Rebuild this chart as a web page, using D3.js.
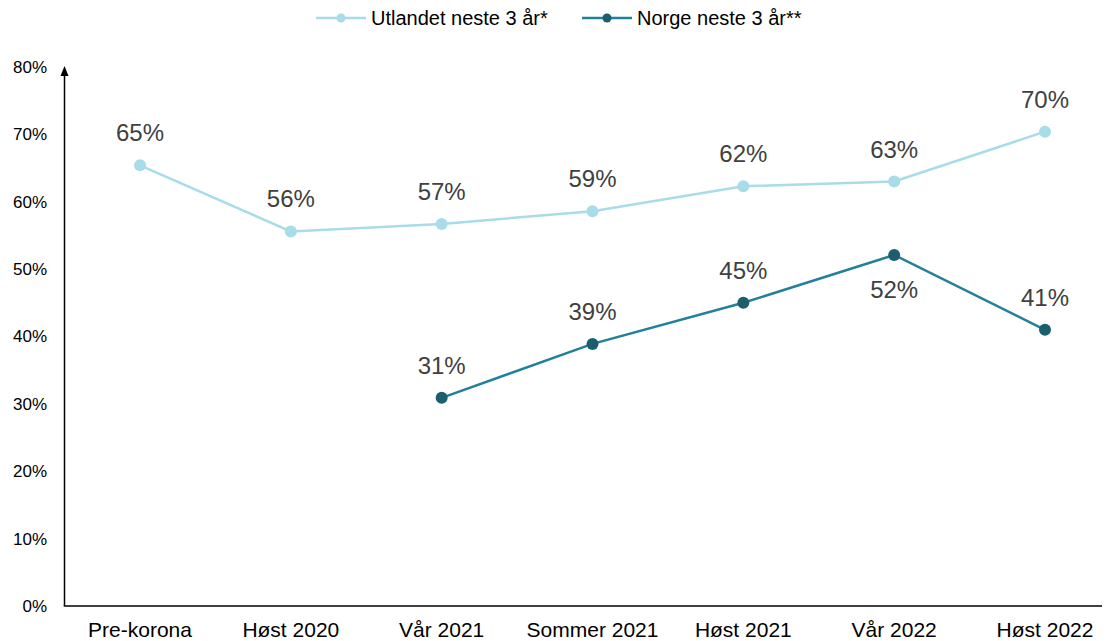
<!DOCTYPE html>
<html><head><meta charset="utf-8">
<script src="https://cdn.jsdelivr.net/npm/d3@7"></script>
<style>body{margin:0;background:#fff;}svg{display:block;font-family:"Liberation Sans",Arial,sans-serif;}</style>
</head><body>
<svg id="c" width="1107" height="641"></svg>
<script>
const categories = ["Pre-korona","Høst 2020","Vår 2021","Sommer 2021","Høst 2021","Vår 2022","Høst 2022"];
const utlandet = [65.4, 55.6, 56.7, 58.6, 62.3, 63.0, 70.4];
const norge = [null, null, 30.9, 38.9, 45.0, 52.1, 41.0];
const yTicks = [0,10,20,30,40,50,60,70,80];
const seriesNames = ["Utlandet neste 3 år*", "Norge neste 3 år**"];

const svg = d3.select("#c");
const x = d3.scalePoint().domain(categories).range([140, 1045]);
const y = d3.scaleLinear().domain([0, 80]).range([606, 67]);
const axisX0 = 64.5;

const cLight = "#A7DCE8", cDarkLine = "#23809A", cDarkDot = "#1B5F6E", txt = "#404040";

// y tick labels
svg.append("g").selectAll("text").data(yTicks).join("text")
  .attr("x", 47).attr("y", d => y(d)).attr("dy", "0.35em")
  .attr("text-anchor", "end").attr("font-size", 17).attr("fill", "#000")
  .text(d => d + "%");

// axes
svg.append("line").attr("x1", axisX0).attr("x2", axisX0).attr("y1", y(0)).attr("y2", 76)
  .attr("stroke","#000").attr("stroke-width",1.5);
svg.append("path").attr("d", `M${axisX0-4},76 L${axisX0},66 L${axisX0+4},76 Z`).attr("fill","#000");
svg.append("line").attr("x1", axisX0-0.75).attr("x2", 1102).attr("y1", y(0)).attr("y2", y(0))
  .attr("stroke","#000").attr("stroke-width",1.5);

// x labels
svg.append("g").selectAll("text").data(categories).join("text")
  .attr("x", d => x(d)).attr("y", 637).attr("text-anchor","middle")
  .attr("font-size", 21).attr("fill","#000").text(d => d);

function drawSeries(vals, lineColor, dotColor, labelPos) {
  const pts = categories.map((c,i)=>({c, v: vals[i], i})).filter(d => d.v != null);
  const line = d3.line().x(d => x(d.c)).y(d => y(d.v));
  svg.append("path").datum(pts).attr("d", line).attr("fill","none")
    .attr("stroke", lineColor).attr("stroke-width", 2.5);
  svg.append("g").selectAll("circle").data(pts).join("circle")
    .attr("cx", d => x(d.c)).attr("cy", d => y(d.v)).attr("r", 6).attr("fill", dotColor);
  svg.append("g").selectAll("text").data(pts).join("text")
    .attr("x", d => x(d.c)).attr("y", d => y(d.v) + (labelPos(d) === "below" ? 43 : -24))
    .attr("text-anchor","middle").attr("font-size", 24).attr("fill", txt)
    .text(d => Math.round(d.v) + "%");
}
drawSeries(utlandet, cLight, cLight, d => "above");
drawSeries(norge, cDarkLine, cDarkDot, d => d.c === "Vår 2022" ? "below" : "above");

// legend
const leg = [
  {name: seriesNames[0], x0: 316, line: cLight, dot: cLight},
  {name: seriesNames[1], x0: 582, line: cDarkLine, dot: cDarkDot}
];
const lg = svg.append("g");
leg.forEach(l => {
  lg.append("line").attr("x1", l.x0).attr("x2", l.x0 + 50).attr("y1", 18).attr("y2", 18)
    .attr("stroke", l.line).attr("stroke-width", 2.5);
  lg.append("circle").attr("cx", l.x0 + 25).attr("cy", 18).attr("r", 4.5).attr("fill", l.dot);
  lg.append("text").attr("x", l.x0 + 55).attr("y", 18).attr("dy","0.35em")
    .attr("font-size", 20).attr("fill","#000").text(l.name);
});
</script>
</body></html>
